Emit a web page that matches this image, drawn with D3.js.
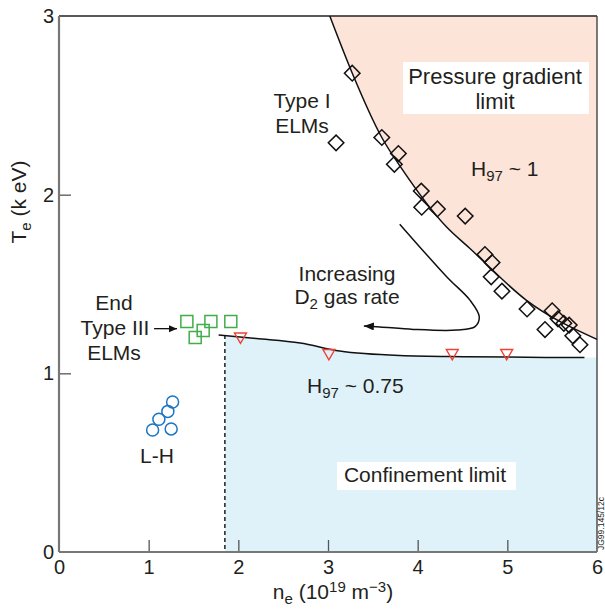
<!DOCTYPE html>
<html>
<head>
<meta charset="utf-8">
<script src="https://cdn.jsdelivr.net/npm/d3@7"></script>
<style>
  body { margin: 0; background: #fff; }
  svg text { font-family: "Liberation Sans", Arial, sans-serif; fill: #231f20; }
</style>
</head>
<body>
<svg id="chart" width="605" height="610"></svg>
<script>
// axis ticks
const xTicks = [0, 1, 2, 3, 4, 5, 6];
const yTicks = [0, 1, 2, 3];

// Type I ELMs (diamonds)
const typeINe = [3.27, 3.09, 3.60, 3.785, 3.74, 4.04, 4.045, 4.22, 4.53, 4.75, 4.83, 4.82, 4.94, 5.22, 5.50, 5.565, 5.63, 5.69, 5.42, 5.73, 5.81];
const typeITe = [2.68, 2.29, 2.32, 2.23, 2.17, 2.02, 1.93, 1.92, 1.88, 1.665, 1.62, 1.54, 1.46, 1.36, 1.35, 1.305, 1.28, 1.27, 1.245, 1.21, 1.16];

// end of Type III ELMs (squares)
const endIIINe = [1.426, 1.694, 1.916, 1.608, 1.519];
const endIIITe = [1.29, 1.29, 1.29, 1.24, 1.20];

// L-H transition (circles)
const lhNe = [1.267, 1.214, 1.114, 1.044, 1.251];
const lhTe = [0.84, 0.787, 0.743, 0.683, 0.689];

// triangles on the confinement line
const triNe = [2.024, 3.01, 4.386, 4.993];
const triTe = [1.206, 1.114, 1.114, 1.114];

// pressure gradient limit curve (H97 ~ 1)
const pgNe = [3.02, 3.265, 3.60, 3.83, 4.32, 4.58, 5.21, 6.0];
const pgTe = [3.0, 2.687, 2.32, 2.14, 1.82, 1.70, 1.41, 1.19];

// confinement limit line (H97 ~ 0.75)
const clNe = [1.78, 2.2, 2.69, 3.13, 3.8, 4.54, 5.86];
const clTe = [1.215, 1.195, 1.17, 1.125, 1.10, 1.093, 1.088];

// density where confinement region starts (dashed line)
const dashNe = 1.85;

// "increasing D2 gas rate" arrow
const arrowNe = [3.80, 4.323, 4.583, 4.687, 4.64, 4.435, 3.95, 3.58, 3.40];
const arrowTe = [1.835, 1.541, 1.410, 1.317, 1.261, 1.242, 1.246, 1.26, 1.265];

// "End Type III ELMs" arrow
const endArrowNe = [1.06, 1.316];
const endArrowTe = [1.25, 1.25];

const svg = d3.select("#chart");
const x = d3.scaleLinear().domain([0, 6]).range([59, 597]);
const y = d3.scaleLinear().domain([0, 3]).range([552, 16]);

const pts = (a, b) => a.map((v, i) => ({ne: v, te: b[i]}));

// pink region
const pg = pts(pgNe, pgTe);
svg.append("path")
    .attr("fill", "#fde4d9")
    .attr("d", d3.line().x(d => x(d.ne)).y(d => y(d.te)).curve(d3.curveMonotoneX)(pg) + "L" + x(6) + "," + y(3) + "Z");

// blue region
const cl = pts(clNe, clTe);
svg.append("clipPath").attr("id", "blueclip")
    .append("rect")
    .attr("x", x(dashNe)).attr("y", y(3))
    .attr("width", x(6) - x(dashNe)).attr("height", y(0) - y(3));
svg.append("path")
    .datum(cl.concat([{ne: 6, te: clTe[clTe.length - 1]}]))
    .attr("clip-path", "url(#blueclip)")
    .attr("fill", "#dff2fa")
    .attr("d", d3.area().x(d => x(d.ne)).y0(y(0)).y1(d => y(d.te)).curve(d3.curveMonotoneX));

// axes
const xAxis = svg.append("g")
    .attr("transform", "translate(0," + y(0) + ")")
    .call(d3.axisBottom(x).tickValues(xTicks).tickFormat(d3.format("d")).tickSize(-12).tickPadding(8));
const yAxis = svg.append("g")
    .attr("transform", "translate(" + x(0) + ",0)")
    .call(d3.axisLeft(y).tickValues(yTicks).tickFormat(d3.format("d")).tickSize(-12).tickPadding(5));
[xAxis, yAxis].forEach(g => {
    g.select(".domain").remove();
    g.selectAll(".tick line").attr("stroke", "#555").attr("stroke-width", 1.3);
    g.selectAll(".tick text").style("font-size", "20px").attr("fill", "#231f20");
});
xAxis.selectAll(".tick").filter(d => d === 0 || d === 6).select("line").remove();
yAxis.selectAll(".tick").filter(d => d === 0 || d === 3).select("line").remove();

// frame
svg.append("line").attr("x1", x(0)).attr("x2", x(6)).attr("y1", y(3)).attr("y2", y(3))
    .attr("stroke", "#222").attr("stroke-width", 1.4);
svg.append("line").attr("x1", x(6)).attr("x2", x(6)).attr("y1", y(3)).attr("y2", y(0))
    .attr("stroke", "#444").attr("stroke-width", 1.4);
svg.append("line").attr("x1", x(0)).attr("x2", x(0)).attr("y1", y(3)).attr("y2", y(0))
    .attr("stroke", "#777").attr("stroke-width", 2.2);
svg.append("line").attr("x1", x(0)).attr("x2", x(6)).attr("y1", y(0)).attr("y2", y(0))
    .attr("stroke", "#777").attr("stroke-width", 2.2);

// curves
svg.append("path")
    .datum(pg)
    .attr("fill", "none").attr("stroke", "#111").attr("stroke-width", 1.5)
    .attr("d", d3.line().x(d => x(d.ne)).y(d => y(d.te)).curve(d3.curveMonotoneX));
svg.append("path")
    .datum(cl)
    .attr("fill", "none").attr("stroke", "#111").attr("stroke-width", 1.5)
    .attr("d", d3.line().x(d => x(d.ne)).y(d => y(d.te)).curve(d3.curveMonotoneX));

// dashed line
svg.append("line")
    .attr("x1", x(dashNe)).attr("x2", x(dashNe))
    .attr("y1", y(clTe[0])).attr("y2", y(0))
    .attr("stroke", "#111").attr("stroke-width", 1.4).attr("stroke-dasharray", "4,3");

// arrow markers
const defs = svg.append("defs");
defs.append("marker").attr("id", "head").attr("markerUnits", "userSpaceOnUse")
    .attr("markerWidth", 11).attr("markerHeight", 9).attr("refX", 10).attr("refY", 4)
    .attr("orient", "auto")
    .append("path").attr("d", "M0,0L10,4L0,8Z").attr("fill", "#111");
defs.append("marker").attr("id", "head2").attr("markerUnits", "userSpaceOnUse")
    .attr("markerWidth", 9).attr("markerHeight", 8).attr("refX", 8).attr("refY", 3.5)
    .attr("orient", "auto")
    .append("path").attr("d", "M0,0L8,3.5L0,7Z").attr("fill", "#111");

svg.append("path")
    .datum(pts(arrowNe, arrowTe))
    .attr("fill", "none").attr("stroke", "#111").attr("stroke-width", 1.5)
    .attr("marker-end", "url(#head)")
    .attr("d", d3.line().x(d => x(d.ne)).y(d => y(d.te)).curve(d3.curveCatmullRom));
svg.append("path")
    .datum(pts(endArrowNe, endArrowTe))
    .attr("fill", "none").attr("stroke", "#111").attr("stroke-width", 1.3)
    .attr("marker-end", "url(#head2)")
    .attr("d", d3.line().x(d => x(d.ne)).y(d => y(d.te)));

// markers
const sym = (type, size) => d3.symbol().type(type).size(size)();
svg.append("g").selectAll("path")
    .data(pts(typeINe, typeITe))
    .join("path")
    .attr("transform", d => "translate(" + x(d.ne) + "," + y(d.te) + ") rotate(45)")
    .attr("d", sym(d3.symbolSquare, 121))
    .attr("fill", "none").attr("stroke", "#111").attr("stroke-width", 1.5);
svg.append("g").selectAll("path")
    .data(pts(endIIINe, endIIITe))
    .join("path")
    .attr("transform", d => "translate(" + x(d.ne) + "," + y(d.te) + ")")
    .attr("d", sym(d3.symbolSquare, 144))
    .attr("fill", "none").attr("stroke", "#3fae49").attr("stroke-width", 1.5);
svg.append("g").selectAll("circle")
    .data(pts(lhNe, lhTe))
    .join("circle")
    .attr("cx", d => x(d.ne)).attr("cy", d => y(d.te)).attr("r", 6)
    .attr("fill", "none").attr("stroke", "#1b75c4").attr("stroke-width", 1.5);
svg.append("g").selectAll("path")
    .data(pts(triNe, triTe))
    .join("path")
    .attr("transform", d => "translate(" + x(d.ne) + "," + y(d.te) + ") rotate(180)")
    .attr("d", sym(d3.symbolTriangle, 62))
    .attr("fill", "none").attr("stroke", "#ef4136").attr("stroke-width", 1.4);

// label boxes
svg.append("rect").attr("x", 403).attr("y", 62).attr("width", 186).attr("height", 52).attr("fill", "#fff");
svg.append("rect").attr("x", 337).attr("y", 462).attr("width", 179).attr("height", 28).attr("fill", "#fff");

// annotations
function label(tx, ty, str, anchor) {
    return svg.append("text").attr("x", tx).attr("y", ty)
        .attr("text-anchor", anchor || "middle").style("font-size", "21px").text(str);
}
label(302, 108, "Type I");
label(302, 133, "ELMs");
label(495, 84, "Pressure gradient").style("font-size", "22px");
label(495, 109, "limit").style("font-size", "22px");
label(114, 310, "End");
label(115, 335, "Type III");
label(114, 360, "ELMs");
label(157, 463, "L-H");
label(347, 281, "Increasing");
label(425, 482, "Confinement limit");

const d2 = svg.append("text").attr("x", 347).attr("y", 304).attr("text-anchor", "middle").style("font-size", "21px");
d2.append("tspan").text("D");
d2.append("tspan").attr("dy", 5).style("font-size", "15px").text("2");
d2.append("tspan").attr("dy", -5).text(" gas rate");

const h1 = svg.append("text").attr("x", 471).attr("y", 176).style("font-size", "21px");
h1.append("tspan").text("H");
h1.append("tspan").attr("dy", 5).style("font-size", "15px").text("97");
h1.append("tspan").attr("dy", -5).text(" ~ 1");

const h2 = svg.append("text").attr("x", 307).attr("y", 393).style("font-size", "21px");
h2.append("tspan").text("H");
h2.append("tspan").attr("dy", 5).style("font-size", "15px").text("97");
h2.append("tspan").attr("dy", -5).text(" ~ 0.75");

// axis titles
const xt = svg.append("text").attr("x", 333).attr("y", 599).attr("text-anchor", "middle").style("font-size", "21px");
xt.append("tspan").text("n");
xt.append("tspan").attr("dy", 5).style("font-size", "15px").text("e");
xt.append("tspan").attr("dy", -5).text(" (10");
xt.append("tspan").attr("dy", -7).style("font-size", "15px").text("19");
xt.append("tspan").attr("dy", 7).text(" m");
xt.append("tspan").attr("dy", -7).style("font-size", "15px").text("\u22123");
xt.append("tspan").attr("dy", 7).text(")");

const yt = svg.append("text").attr("transform", "translate(26,202) rotate(-90)")
    .attr("text-anchor", "middle").style("font-size", "21px");
yt.append("tspan").text("T");
yt.append("tspan").attr("dy", 5).style("font-size", "15px").text("e");
yt.append("tspan").attr("dy", -5).text(" (k eV)");

// figure code
svg.append("text").attr("transform", "translate(604,550) rotate(-90)")
    .style("font-size", "8.5px").attr("fill", "#555").text("JG99.145/12c");
</script>
</body>
</html>
